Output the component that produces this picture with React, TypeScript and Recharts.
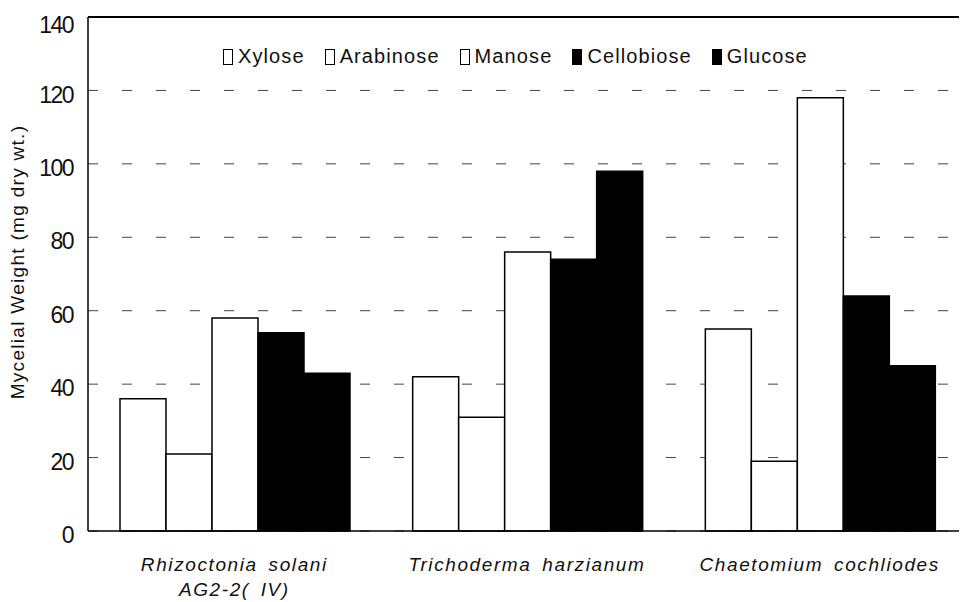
import React from 'react';
import { BarChart, Bar, XAxis, YAxis, CartesianGrid, ReferenceLine } from 'recharts';

// values (mg dry wt.)
const fungi = ['Rhizoctonia solani AG2-2(IV)', 'Trichoderma harzianum', 'Chaetomium cochliodes'];
const fungusLines = [['Rhizoctonia solani', 'AG2-2( IV)'], ['Trichoderma harzianum'], ['Chaetomium cochliodes']];
const sugars = ['Xylose', 'Arabinose', 'Manose', 'Cellobiose', 'Glucose'];
const xylose = [36, 42, 55];
const arabinose = [21, 31, 19];
const manose = [58, 76, 118];
const cellobiose = [54, 74, 64];
const glucose = [43, 98, 45];
const yTicks = [0, 20, 40, 60, 80, 100, 120, 140];

const fills: Record<string, string> = {
  Xylose: '#fff',
  Arabinose: '#fff',
  Manose: '#fff',
  Cellobiose: '#000',
  Glucose: '#000',
};

const data = fungi.map((name, i) => ({
  name,
  Xylose: xylose[i],
  Arabinose: arabinose[i],
  Manose: manose[i],
  Cellobiose: cellobiose[i],
  Glucose: glucose[i],
}));

const font = '"Liberation Sans", Arial, sans-serif';

const FungusTick = (props: any) => {
  const { x, y, payload } = props;
  const lines = fungusLines[payload.index] || [payload.value];
  return (
    <g transform={`translate(${x},${y})`}>
      <text
        textAnchor="middle"
        fontStyle="italic"
        fontSize={19}
        letterSpacing={1.6}
        wordSpacing={4}
        fill="#111"
        fontFamily={font}
      >
        {lines.map((l, i) => (
          <tspan key={i} x={0} dy={i === 0 ? 38 : 25}>{l}</tspan>
        ))}
      </text>
    </g>
  );
};

const YLabel = (props: any) => {
  const { viewBox } = props;
  const x = viewBox.x + 9;
  const y = viewBox.y + viewBox.height / 2 - 12;
  return (
    <text
      x={x}
      y={y}
      transform={`rotate(-90, ${x}, ${y})`}
      textAnchor="middle"
      dominantBaseline="central"
      fontSize={19}
      letterSpacing={1.3}
      fill="#111"
      fontFamily={font}
    >
      Mycelial Weight (mg dry wt.)
    </text>
  );
};

const SugarLegend = () => (
  <div
    style={{
      position: 'absolute',
      left: 215,
      top: 37,
      display: 'flex',
      alignItems: 'center',
      fontFamily: font,
      fontSize: 20,
      letterSpacing: 1.1,
      lineHeight: '23px',
      color: '#111',
    }}
  >
    {sugars.map((s) => (
      <div key={s} style={{ display: 'flex', alignItems: 'center', marginRight: 20 }}>
        <span
          style={{
            display: 'inline-block',
            width: 8,
            height: 14,
            marginRight: 5,
            background: fills[s],
            border: '1px solid #000',
          }}
        />
        <span>{s}</span>
      </div>
    ))}
  </div>
);

export default function App() {
  return (
    <div style={{ position: 'relative', width: 959, height: 594 }}>
      <BarChart
        width={959}
        height={594}
        data={data}
        margin={{ top: 9, right: 1, left: 0, bottom: 0 }}
        barGap={0}
        barCategoryGap={32}
      >
        <CartesianGrid vertical={false} stroke="#444" strokeDasharray="10 24" />
        <ReferenceLine y={140} stroke="#000" strokeWidth={2} />
        <XAxis
          dataKey="name"
          height={71}
          axisLine={{ stroke: '#000', strokeWidth: 1.5 }}
          tickLine={false}
          tickSize={0}
          tick={<FungusTick />}
          interval={0}
        />
        <YAxis
          width={80}
          domain={[0, 140]}
          ticks={yTicks}
          axisLine={{ stroke: '#000', strokeWidth: 1.5 }}
          tickLine={false}
          tickSize={0}
          tickMargin={15}
          tick={{ fontSize: 23, fill: '#111', fontFamily: font, letterSpacing: -1.5, dy: 4 }}
          label={<YLabel />}
        />
        {sugars.map((s) => (
          <Bar
            key={s}
            dataKey={s}
            fill={fills[s]}
            stroke="#000"
            strokeWidth={1.5}
            isAnimationActive={false}
          />
        ))}
      </BarChart>
      <SugarLegend />
    </div>
  );
}
